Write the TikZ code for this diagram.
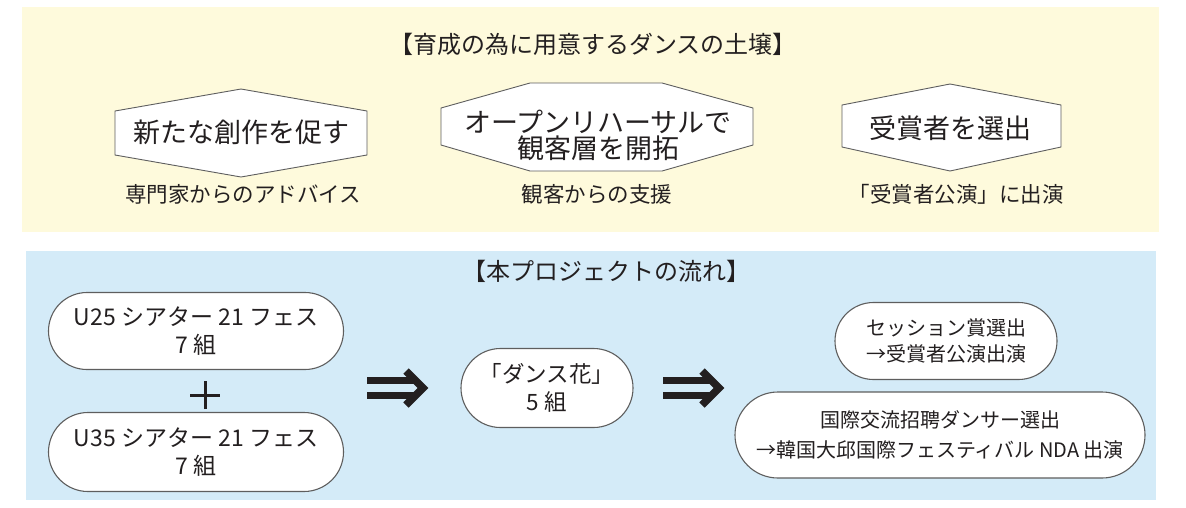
\documentclass[tikz,border=0pt]{standalone}
\usepackage{fontspec}
\setmainfont{Noto Sans CJK JP}
\usetikzlibrary{shapes.misc}
\definecolor{ylw}{HTML}{FEFADC}
\definecolor{blu}{HTML}{D4EBF8}
\definecolor{edge}{HTML}{5E5E5E}
\definecolor{ink}{HTML}{231F20}
\tikzset{
  panel/.style={draw=none},
  hexbox/.style={draw=edge, fill=white, line width=0.9pt, line join=miter},
  hextext/.style={text=ink, align=center, inner sep=0pt, font=\fontsize{27}{26}\selectfont},
  caption/.style={text=ink, inner sep=0pt, font=\fontsize{21.5}{24}\selectfont},
  heading/.style={text=ink, inner sep=0pt, font=\fontsize{24}{26}\selectfont},
  pill/.style={rounded rectangle, draw=edge, fill=white, line width=1.1pt, inner sep=0pt, text=ink, align=center},
  bigarrow/.style={draw=ink, line width=6.5pt},
  arrowhead/.style={draw=ink, line width=7.5pt, line join=miter, line cap=butt},
}
\begin{document}
\begin{tikzpicture}[x=1pt,y=-1pt]
\useasboundingbox (0,0) rectangle (1186,507);
% panels
\fill[ylw] (22,7) rectangle (1159,232);
\fill[blu] (26,251) rectangle (1156,500);

% headings
\node[heading] (h1) at (593,44) {【育成の為に用意するダンスの土壌】};
\node[heading] (h2) at (606,271) {【本プロジェクトの流れ】};

% hexagon 1
\draw[hexbox] (241,89) -- (367,111) -- (367,155) -- (241,177) -- (115,155) -- (115,111) -- cycle;
\node[hextext] (t1) at (241,132) {新たな創作を促す};
\node[caption] (c1) at (243,194) {専門家からのアドバイス};

% hexagon 2 (flat top and bottom)
\draw[hexbox] (530,83) -- (662,83) -- (753,108) -- (753,145) -- (662,171) -- (530,171) -- (441,145) -- (441,108) -- cycle;
\node[hextext] (t2) at (598,135) {オープンリハーサルで\\観客層を開拓};
\node[caption] (c2) at (597,194) {観客からの支援};

% hexagon 3
\draw[hexbox] (950,84) -- (1061,105) -- (1061,147) -- (950,171) -- (842,147) -- (842,105) -- cycle;
\node[hextext] (t3) at (950,128) {受賞者を選出};
\node[caption] (c3) at (956,194) {「受賞者公演」に出演};

% flow pills
\node[pill, minimum width=295pt, minimum height=77pt, font=\fontsize{23}{28}\selectfont] (p1) at (196,331) {U25 シアター 21 フェス\\7 組};
\node[pill, minimum width=295pt, minimum height=79pt, font=\fontsize{23}{28}\selectfont] (p2) at (196,452) {U35 シアター 21 フェス\\7 組};
\node[pill, minimum width=172pt, minimum height=79pt, font=\fontsize{22.5}{28}\selectfont] (p3) at (547,388) {「ダンス花」\\5 組};
\node[pill, minimum width=222pt, minimum height=77pt, font=\fontsize{20}{26}\selectfont] (p4) at (946,341) {セッション賞選出\\→受賞者公演出演};
\node[pill, minimum width=410pt, minimum height=86pt, font=\fontsize{20}{30}\selectfont] (p5) at (940,435) {国際交流招聘ダンサー選出\\→韓国大邱国際フェスティバル NDA 出演};

% plus sign
\coordinate (plus) at (205,395);
\draw[ink, line width=3pt] ([xshift=-15pt]plus) -- ([xshift=15pt]plus);
\draw[ink, line width=3pt] ([yshift=-14pt]plus) -- ([yshift=14pt]plus);

% double arrows
\coordinate (a1) at (367,388);
\coordinate (a2) at (663,388);
\foreach \a in {a1,a2}{
  \draw[bigarrow] ([shift={(0,-7.5)}]\a) -- ([shift={(50,-7.5)}]\a);
  \draw[bigarrow] ([shift={(0,7.5)}]\a) -- ([shift={(50,7.5)}]\a);
  \draw[arrowhead] ([shift={(39,-17)}]\a) -- ([shift={(56,0)}]\a) -- ([shift={(39,17)}]\a);
}
\end{tikzpicture}
\end{document}
